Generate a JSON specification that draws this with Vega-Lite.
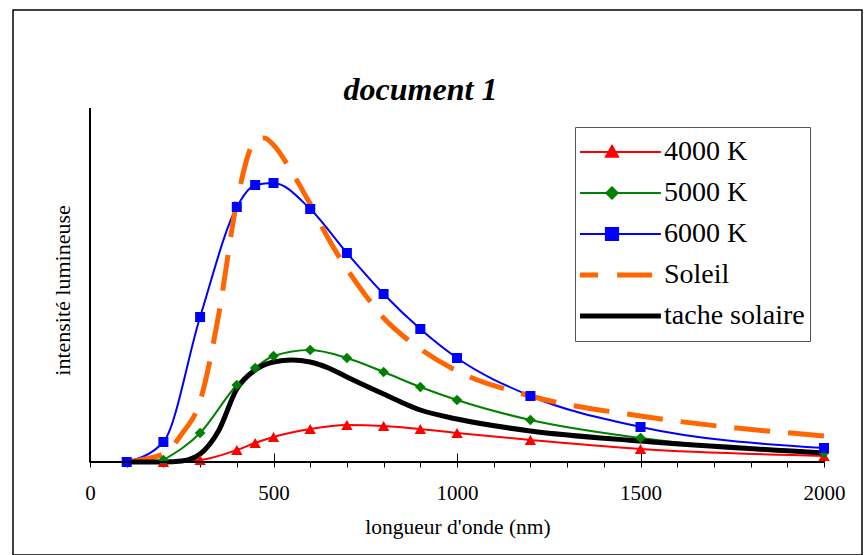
{
  "$schema": "https://vega.github.io/schema/vega-lite/v6.json",
  "width": 849,
  "height": 545,
  "autosize": {"type": "none"},
  "padding": {"left": 13, "top": 10, "right": 3, "bottom": 0},
  "background": "white",
  "config": {
    "view": {"stroke": "#000000", "strokeWidth": 1.5},
    "font": "Liberation Serif"
  },
  "title": {
    "text": "document 1",
    "font": "Liberation Serif",
    "fontSize": 32,
    "fontStyle": "italic",
    "fontWeight": "bold",
    "color": "#000000",
    "anchor": "middle",
    "frame": "group",
    "offset": -97,
    "dx": -17
  },
  "data": {
    "values": [
      {"serie": "4000 K", "lambda": 200, "intensite": 0},
      {"serie": "4000 K", "lambda": 300, "intensite": 2},
      {"serie": "4000 K", "lambda": 400, "intensite": 12},
      {"serie": "4000 K", "lambda": 450, "intensite": 19},
      {"serie": "4000 K", "lambda": 500, "intensite": 25},
      {"serie": "4000 K", "lambda": 600, "intensite": 33},
      {"serie": "4000 K", "lambda": 700, "intensite": 37},
      {"serie": "4000 K", "lambda": 800, "intensite": 36},
      {"serie": "4000 K", "lambda": 900, "intensite": 33},
      {"serie": "4000 K", "lambda": 1000, "intensite": 29},
      {"serie": "4000 K", "lambda": 1200, "intensite": 22},
      {"serie": "4000 K", "lambda": 1500, "intensite": 13},
      {"serie": "4000 K", "lambda": 2000, "intensite": 6},
      {"serie": "5000 K", "lambda": 200, "intensite": 2},
      {"serie": "5000 K", "lambda": 300, "intensite": 29},
      {"serie": "5000 K", "lambda": 400, "intensite": 77},
      {"serie": "5000 K", "lambda": 450, "intensite": 94},
      {"serie": "5000 K", "lambda": 500, "intensite": 106},
      {"serie": "5000 K", "lambda": 600, "intensite": 112},
      {"serie": "5000 K", "lambda": 700, "intensite": 104},
      {"serie": "5000 K", "lambda": 800, "intensite": 90},
      {"serie": "5000 K", "lambda": 900, "intensite": 75},
      {"serie": "5000 K", "lambda": 1000, "intensite": 62},
      {"serie": "5000 K", "lambda": 1200, "intensite": 42},
      {"serie": "5000 K", "lambda": 1500, "intensite": 24},
      {"serie": "5000 K", "lambda": 2000, "intensite": 9},
      {"serie": "6000 K", "lambda": 100, "intensite": 0},
      {"serie": "6000 K", "lambda": 200, "intensite": 20},
      {"serie": "6000 K", "lambda": 300, "intensite": 145},
      {"serie": "6000 K", "lambda": 400, "intensite": 255},
      {"serie": "6000 K", "lambda": 450, "intensite": 277},
      {"serie": "6000 K", "lambda": 500, "intensite": 279},
      {"serie": "6000 K", "lambda": 600, "intensite": 253},
      {"serie": "6000 K", "lambda": 700, "intensite": 209},
      {"serie": "6000 K", "lambda": 800, "intensite": 168},
      {"serie": "6000 K", "lambda": 900, "intensite": 133},
      {"serie": "6000 K", "lambda": 1000, "intensite": 104},
      {"serie": "6000 K", "lambda": 1200, "intensite": 66},
      {"serie": "6000 K", "lambda": 1500, "intensite": 35},
      {"serie": "6000 K", "lambda": 2000, "intensite": 14},
      {"serie": "Soleil", "lambda": 100, "intensite": 0},
      {"serie": "Soleil", "lambda": 200, "intensite": 8},
      {"serie": "Soleil", "lambda": 250, "intensite": 28},
      {"serie": "Soleil", "lambda": 300, "intensite": 61},
      {"serie": "Soleil", "lambda": 350, "intensite": 146},
      {"serie": "Soleil", "lambda": 400, "intensite": 260},
      {"serie": "Soleil", "lambda": 450, "intensite": 321},
      {"serie": "Soleil", "lambda": 475, "intensite": 324},
      {"serie": "Soleil", "lambda": 500, "intensite": 317},
      {"serie": "Soleil", "lambda": 550, "intensite": 290},
      {"serie": "Soleil", "lambda": 600, "intensite": 258},
      {"serie": "Soleil", "lambda": 650, "intensite": 223},
      {"serie": "Soleil", "lambda": 700, "intensite": 193},
      {"serie": "Soleil", "lambda": 750, "intensite": 167},
      {"serie": "Soleil", "lambda": 800, "intensite": 144},
      {"serie": "Soleil", "lambda": 850, "intensite": 127},
      {"serie": "Soleil", "lambda": 900, "intensite": 113},
      {"serie": "Soleil", "lambda": 1000, "intensite": 91},
      {"serie": "Soleil", "lambda": 1200, "intensite": 66},
      {"serie": "Soleil", "lambda": 1500, "intensite": 46},
      {"serie": "Soleil", "lambda": 2000, "intensite": 26},
      {"serie": "tache solaire", "lambda": 100, "intensite": 0},
      {"serie": "tache solaire", "lambda": 200, "intensite": 0},
      {"serie": "tache solaire", "lambda": 250, "intensite": 1},
      {"serie": "tache solaire", "lambda": 300, "intensite": 8},
      {"serie": "tache solaire", "lambda": 350, "intensite": 31},
      {"serie": "tache solaire", "lambda": 400, "intensite": 73},
      {"serie": "tache solaire", "lambda": 450, "intensite": 92},
      {"serie": "tache solaire", "lambda": 500, "intensite": 100},
      {"serie": "tache solaire", "lambda": 550, "intensite": 102},
      {"serie": "tache solaire", "lambda": 600, "intensite": 100},
      {"serie": "tache solaire", "lambda": 650, "intensite": 94},
      {"serie": "tache solaire", "lambda": 700, "intensite": 85},
      {"serie": "tache solaire", "lambda": 800, "intensite": 68},
      {"serie": "tache solaire", "lambda": 900, "intensite": 52},
      {"serie": "tache solaire", "lambda": 1000, "intensite": 43},
      {"serie": "tache solaire", "lambda": 1200, "intensite": 31},
      {"serie": "tache solaire", "lambda": 1500, "intensite": 21},
      {"serie": "tache solaire", "lambda": 2000, "intensite": 9}
    ]
  },
  "resolve": {"axis": {"x": "independent", "y": "independent"}},
  "layer": [
    {
      "transform": [{"filter": "datum.serie !== 'Soleil' && datum.serie !== 'tache solaire'"}],
      "mark": {"type": "line", "interpolate": "monotone", "strokeWidth": 2},
      "encoding": {
        "x": {
          "field": "lambda", "type": "quantitative",
          "scale": {"domain": [-209.8, 2103.5], "nice": false, "zero": false},
          "axis": {
            "orient": "bottom", "offset": -93, "domain": false, "grid": false,
            "values": [0, 100, 200, 300, 400, 500, 600, 700, 800, 900, 1000, 1100, 1200, 1300, 1400, 1500, 1600, 1700, 1800, 1900, 2000],
            "format": "d",
            "labelExpr": "datum.value % 500 === 0 ? datum.label : ''",
            "labelOverlap": false, "labelFlush": false,
            "tickSize": 5, "tickColor": "#000000", "tickWidth": 1,
            "labelFont": "Liberation Serif", "labelFontSize": 21, "labelColor": "#000000", "labelPadding": 15,
            "title": "longueur d'onde (nm)",
            "titleFont": "Liberation Serif", "titleFontSize": 21.5, "titleFontWeight": "normal", "titleColor": "#000000",
            "titleX": 444.5, "titlePadding": 13
          }
        },
        "y": {
          "field": "intensite", "type": "quantitative",
          "scale": {"domain": [-93, 452], "nice": false, "zero": false},
          "axis": {
            "orient": "left", "offset": -77, "domain": false, "grid": false, "ticks": false, "labels": false,
            "title": "intensité lumineuse",
            "titleFont": "Liberation Serif", "titleFontSize": 22, "titleFontWeight": "normal", "titleColor": "#000000",
            "titlePadding": 16, "titleY": 280
          }
        },
        "color": {
          "field": "serie", "type": "nominal",
          "scale": {
            "domain": ["4000 K", "5000 K", "6000 K", "Soleil", "tache solaire"],
            "range": ["#FF0000", "#008000", "#0000FF", "#FF6600", "#000000"]
          },
          "legend": {
            "orient": "none", "legendX": 562, "legendY": 117,
            "title": null,
            "strokeColor": "#555555", "fillColor": "#FFFFFF", "padding": 5,
            "labelFont": "Liberation Serif", "labelFontSize": 28, "labelColor": "#000000",
            "labelOffset": 38, "symbolOffset": 18,
            "symbolSize": 5929, "symbolStrokeWidth": 1.5, "clipHeight": 40, "rowPadding": 1,
            "encode": {
              "symbols": {
                "update": {
                  "shape": {"signal": "datum.value === '4000 K' ? 'M-1.27,0H1.27M-0.158,0.123L0,-0.158L0.158,0.123Z' : datum.value === '5000 K' ? 'M-1.27,0H1.27M0,-0.147L0.147,0L0,0.147L-0.147,0Z' : datum.value === '6000 K' ? 'M-1.27,0H1.27M-0.158,-0.158H0.158V0.158H-0.158Z' : 'M-1.27,0H1.27'"},
                  "fill": {"signal": "datum.value === '4000 K' ? '#FF0000' : datum.value === '5000 K' ? '#008000' : datum.value === '6000 K' ? '#0000FF' : 'transparent'"},
                  "stroke": {"signal": "datum.value === '4000 K' ? '#FF0000' : datum.value === '5000 K' ? '#008000' : datum.value === '6000 K' ? '#0000FF' : datum.value === 'Soleil' ? '#FF6600' : '#000000'"},
                  "strokeWidth": {"signal": "datum.value === 'Soleil' || datum.value === 'tache solaire' ? 5 : 2"},
                  "strokeDash": {"signal": "datum.value === 'Soleil' ? [35, 19] : [1, 0]"},
                  "opacity": {"value": 1}
                }
              }
            }
          }
        }
      }
    },
    {
      "transform": [{"filter": "datum.serie === 'Soleil'"}],
      "mark": {"type": "line", "interpolate": "monotone", "strokeWidth": 5, "strokeDash": [36, 18]},
      "encoding": {
        "x": {"field": "lambda", "type": "quantitative", "scale": {"domain": [-209.8, 2103.5], "nice": false, "zero": false}, "axis": null},
        "y": {"field": "intensite", "type": "quantitative", "scale": {"domain": [-93, 452], "nice": false, "zero": false}, "axis": null},
        "color": {"field": "serie", "type": "nominal"}
      }
    },
    {
      "transform": [{"filter": "datum.serie === 'tache solaire'"}],
      "mark": {"type": "line", "interpolate": "monotone", "strokeWidth": 5},
      "encoding": {
        "x": {"field": "lambda", "type": "quantitative", "scale": {"domain": [-209.8, 2103.5], "nice": false, "zero": false}, "axis": null},
        "y": {"field": "intensite", "type": "quantitative", "scale": {"domain": [-93, 452], "nice": false, "zero": false}, "axis": null},
        "color": {"field": "serie", "type": "nominal"}
      }
    },
    {
      "transform": [{"filter": "datum.serie !== 'Soleil' && datum.serie !== 'tache solaire'"}],
      "mark": {"type": "point", "filled": true, "opacity": 1},
      "encoding": {
        "x": {"field": "lambda", "type": "quantitative", "scale": {"domain": [-209.8, 2103.5], "nice": false, "zero": false}, "axis": null},
        "y": {"field": "intensite", "type": "quantitative", "scale": {"domain": [-93, 452], "nice": false, "zero": false}, "axis": null},
        "color": {"field": "serie", "type": "nominal"},
        "shape": {
          "field": "serie", "type": "nominal",
          "scale": {"domain": ["4000 K", "5000 K", "6000 K"], "range": ["triangle-up", "diamond", "square"]},
          "legend": null
        },
        "size": {
          "field": "serie", "type": "nominal",
          "scale": {"domain": ["4000 K", "5000 K", "6000 K"], "range": [130, 100, 110]},
          "legend": null
        }
      }
    },
    {
      "mark": {"type": "rule", "color": "#000000", "strokeWidth": 1},
      "encoding": {
        "x": {
          "datum": 0, "type": "quantitative",
          "scale": {"domain": [-209.8, 2103.5], "nice": false, "zero": false},
          "axis": {
            "orient": "bottom", "offset": -93, "domain": false, "grid": false, "labels": false,
            "values": [0, 500, 1000, 1500, 2000],
            "tickSize": -9, "tickColor": "#000000", "tickWidth": 1, "title": null
          }
        },
        "x2": {"datum": 2000},
        "y": {"datum": 0, "type": "quantitative", "scale": {"domain": [-93, 452], "nice": false, "zero": false}, "axis": null}
      }
    },
    {
      "mark": {"type": "rule", "color": "#000000", "strokeWidth": 1},
      "encoding": {
        "x": {"datum": 0, "type": "quantitative", "scale": {"domain": [-209.8, 2103.5], "nice": false, "zero": false}, "axis": null},
        "y": {"datum": 0, "type": "quantitative", "scale": {"domain": [-93, 452], "nice": false, "zero": false}, "axis": null},
        "y2": {"datum": 354}
      }
    }
  ]
}
